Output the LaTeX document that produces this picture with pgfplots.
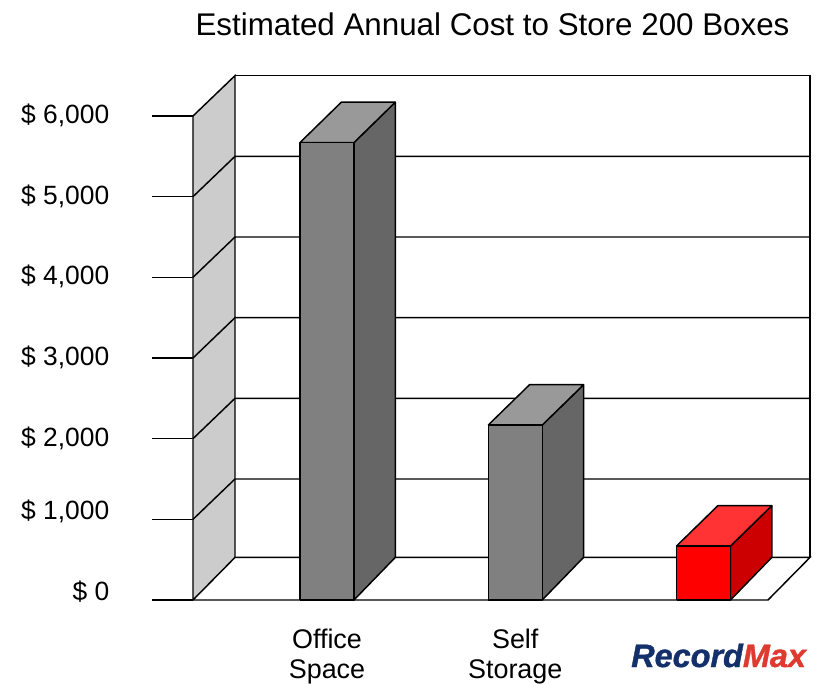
\documentclass[border=0pt]{standalone}
\usepackage{fontspec}
\setmainfont{Liberation Sans}
\newfontfamily\logofont{Liberation Sans}[BoldItalicFeatures={FakeBold=1.2}]
\usepackage{pgfplots}
\pgfplotsset{compat=1.18}
\usepackage{pgfplotstable}

\definecolor{wallgray}{HTML}{CCCCCC}
\definecolor{barfront}{HTML}{808080}
\definecolor{barside}{HTML}{666666}
\definecolor{bartop}{HTML}{999999}
\definecolor{redfront}{HTML}{FF0000}
\definecolor{redside}{HTML}{CC0000}
\definecolor{redtop}{HTML}{FF3333}
\definecolor{logonavy}{HTML}{14306A}
\definecolor{logored}{HTML}{DF3A2F}

% one pixel of the finished page
\newlength{\px}\setlength{\px}{0.75pt}

% depth of the box in axis units
\def\dx{0.2194}
\def\dy{500}
\def\dyfloor{528}
\def\hw{0.1434}

% draws one box: #1 position, #2 value, #3 front, #4 side, #5 top
\newcommand{\threedbar}[5]{%
  \addplot[draw=black,line width=1.1pt,fill=#4,line join=round] coordinates
    {(#1+\hw,0) (#1+\hw+\dx,\dyfloor) (#1+\hw+\dx,#2+\dy) (#1+\hw,#2) (#1+\hw,0)};
  \addplot[draw=black,line width=1.1pt,fill=#5,line join=round] coordinates
    {(#1-\hw,#2) (#1-\hw+\dx,#2+\dy) (#1+\hw+\dx,#2+\dy) (#1+\hw,#2) (#1-\hw,#2)};
  \addplot[draw=black,line width=1.1pt,fill=#3,line join=round] coordinates
    {(#1-\hw,0) (#1-\hw,#2) (#1+\hw,#2) (#1+\hw,0) (#1-\hw,0)};
}
% lifts a tick label without changing the space it takes
\newcommand{\lift}[2]{\raisebox{#1}[\height][\depth]{#2}}
\begin{document}
\begin{tikzpicture}
\path[use as bounding box] (-193\px,-84\px) rectangle (623\px,600\px);
\begin{axis}[
  scale only axis,
  width=575\px, height=484\px,
  xmin=-0.7118, xmax=2.3426,
  ymin=0, ymax=6000,
  clip=false,
  axis x line=none,
  axis y line=left,
  axis line style={draw=none,-},
  ytick={0,1000,2000,3000,4000,5000,6000},
  yticklabels={{\lift{7.5\px}{\$ 0}\hspace{-2\px}},{\lift{7\px}{\$ 1,000}},{\$ 2,000},{\$ 3,000},{\$ 4,000},{\$ 5,000},{\$ 6,000}},
  yticklabel style={font=\fontsize{19.8}{22}\selectfont,xshift=-38\px,yshift=0.5\px},
  ytick style={draw=black,line width=1.1pt},
  tick align=outside,
  major tick length=41\px,
]
% side wall
\addplot[draw=black,line width=1.1pt,fill=wallgray] coordinates
  {(-0.7118,0) (-0.4887,\dyfloor) (-0.4887,6500) (-0.7118,6000) (-0.7118,0)};
% back wall outline
\addplot[draw=black,line width=1.1pt] coordinates
  {(-0.4887,6500) (2.5657,6500) (2.5657,\dyfloor)};
% floor
\addplot[draw=black,line width=1.1pt] coordinates
  {(-0.4887,\dyfloor) (2.5657,\dyfloor) (2.3426,0) (-0.7118,0)};
% grid lines on the back wall and across the side wall
\addplot[draw=black,line width=1.1pt] coordinates {(-0.7118,1000) (-0.4887,1500) (2.5657,1500)};
\addplot[draw=black,line width=1.1pt] coordinates {(-0.7118,2000) (-0.4887,2500) (2.5657,2500)};
\addplot[draw=black,line width=1.1pt] coordinates {(-0.7118,3000) (-0.4887,3500) (2.5657,3500)};
\addplot[draw=black,line width=1.1pt] coordinates {(-0.7118,4000) (-0.4887,4500) (2.5657,4500)};
\addplot[draw=black,line width=1.1pt] coordinates {(-0.7118,5000) (-0.4887,5500) (2.5657,5500)};
\threedbar{0}{5671}{barfront}{barside}{bartop}
\threedbar{1}{2169}{barfront}{barside}{bartop}
\threedbar{2}{669}{redfront}{redside}{redtop}
\node[font=\fontsize{20.2}{23}\selectfont,align=center,anchor=north,yshift=-24\px] at (axis cs:0,0) {Office\\Space};
\node[font=\fontsize{20.2}{23}\selectfont,align=center,anchor=north,yshift=-24\px] at (axis cs:1,0) {Self\\Storage};
\end{axis}
\node[font=\fontsize{23.5}{26}\selectfont,anchor=base] at (299.5\px,564\px) {Estimated Annual Cost to Store 200 Boxes};
\node[font=\logofont\fontsize{24.3}{26}\selectfont\bfseries\itshape,anchor=base west,inner sep=0pt] at (438\px,-67\px)
  {\textcolor{logonavy}{Record}\textcolor{logored}{Max}};
\end{tikzpicture}
\end{document}
